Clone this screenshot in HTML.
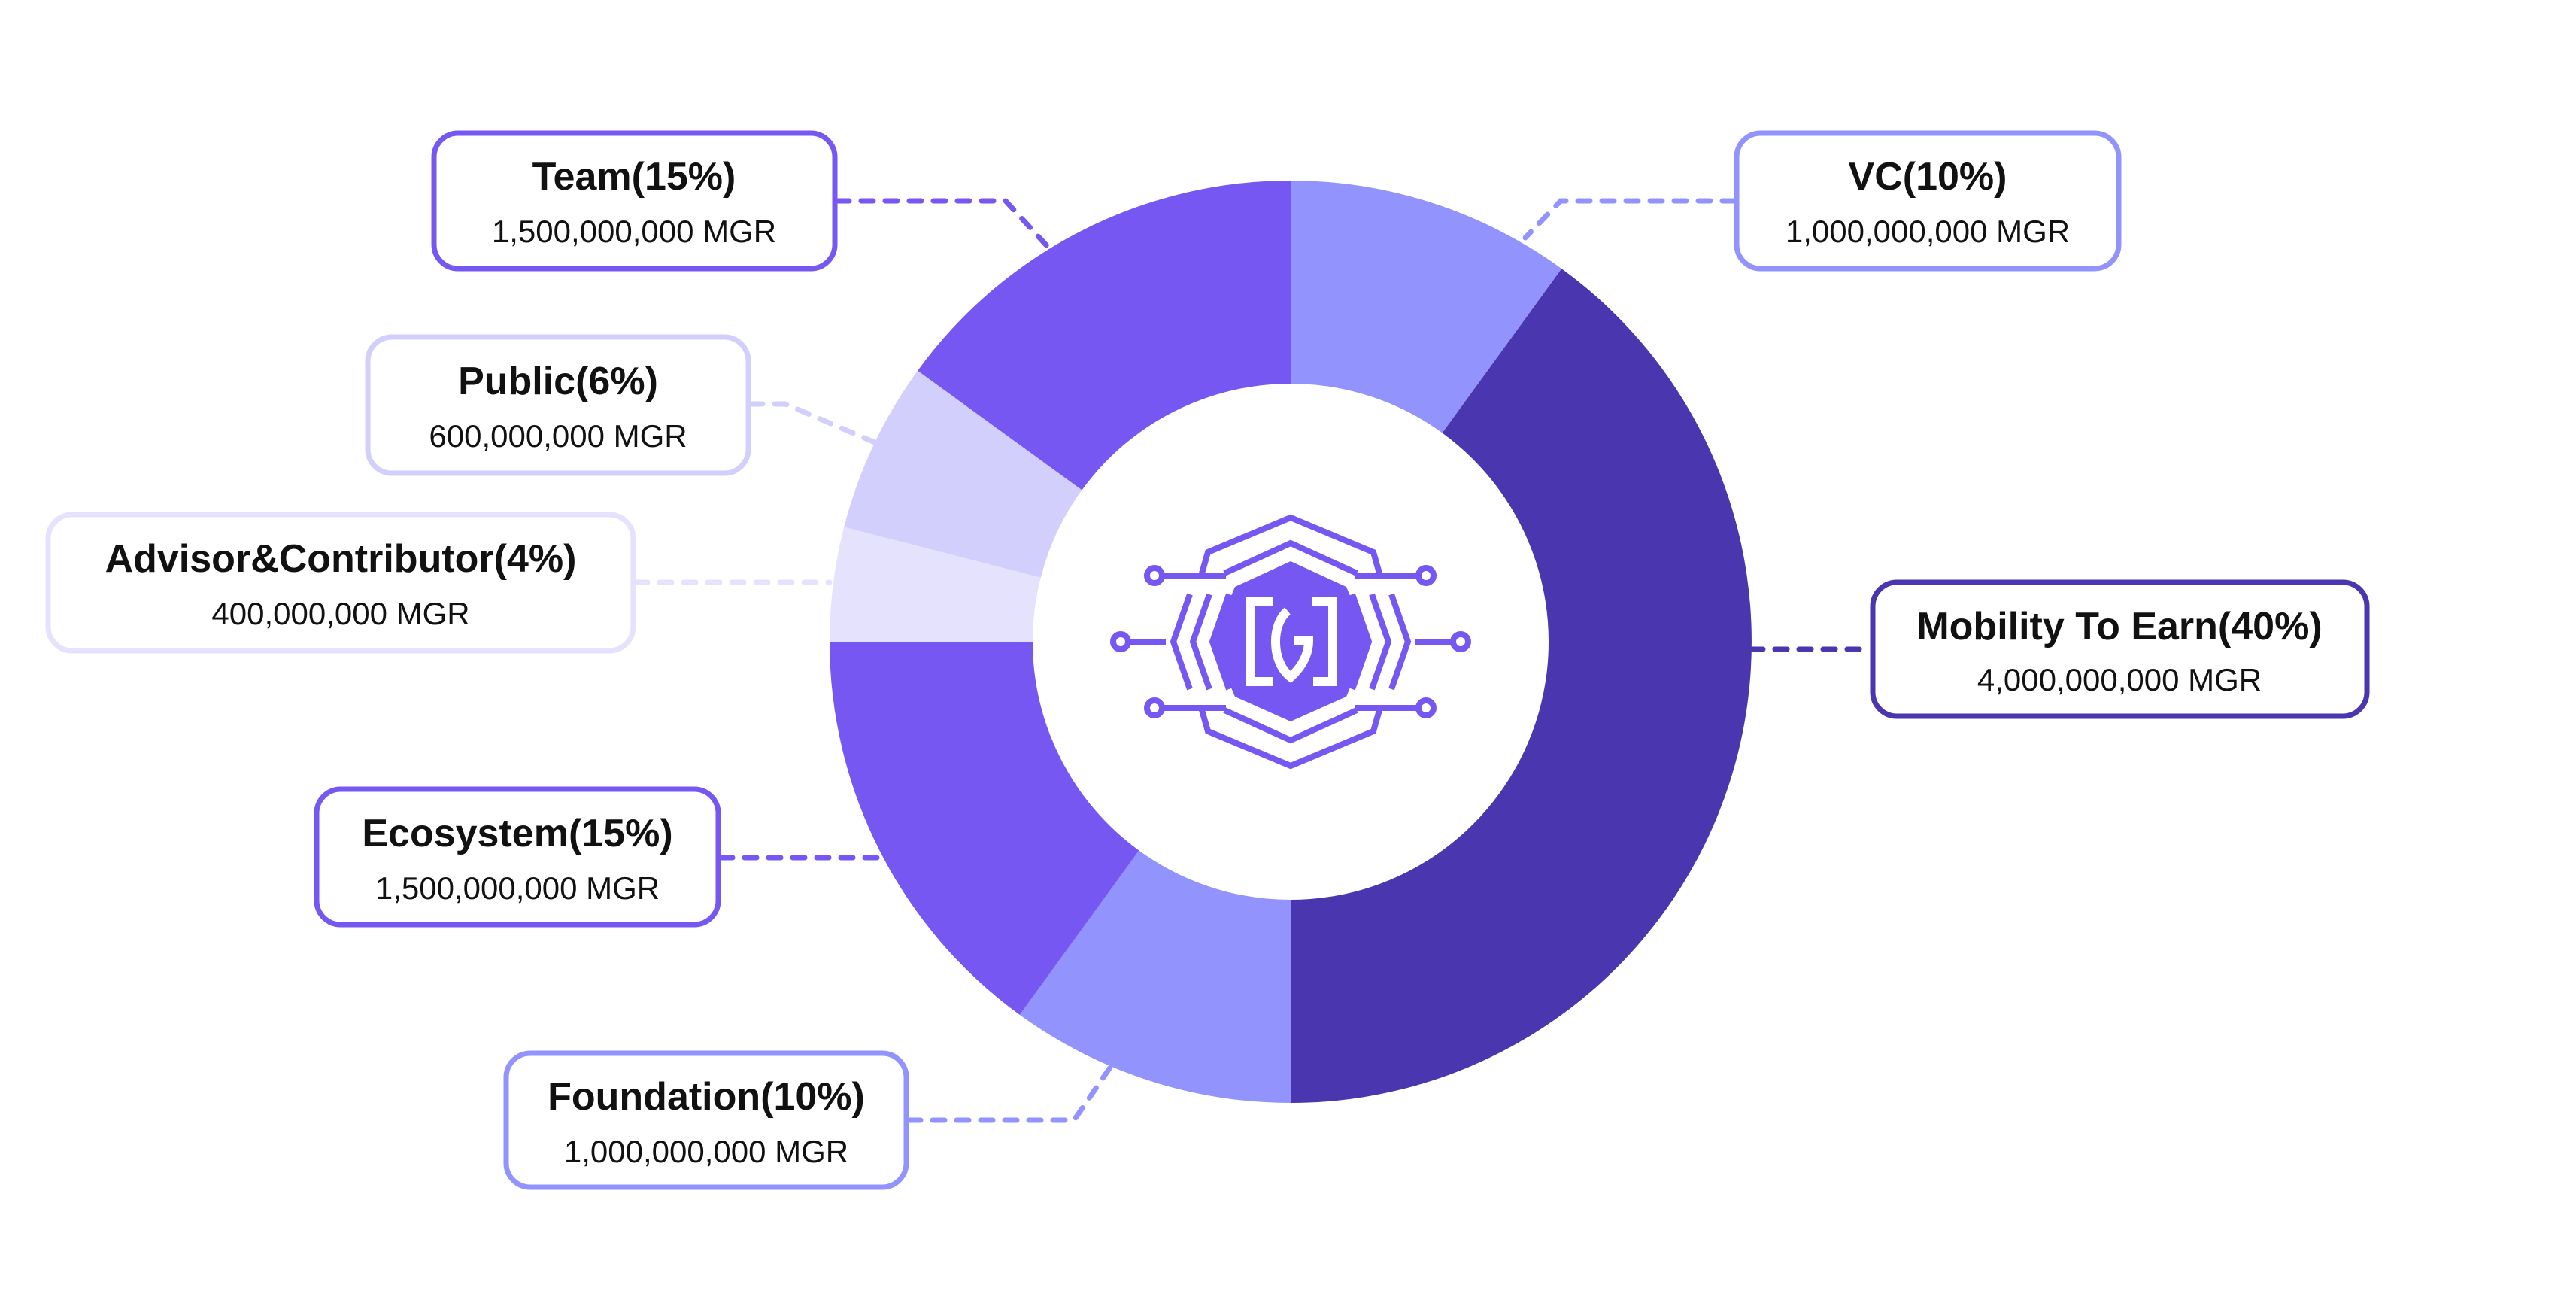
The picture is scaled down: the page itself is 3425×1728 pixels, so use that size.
<!DOCTYPE html>
<html><head><meta charset="utf-8"><style>
html,body{margin:0;padding:0;background:#fff;}
svg{display:block;}
.t{font-family:"Liberation Sans",sans-serif;font-weight:bold;font-size:52px;fill:#111;text-anchor:middle;}
.v{font-family:"Liberation Sans",sans-serif;font-size:42px;fill:#111;text-anchor:middle;}
</style></head><body>
<svg width="3425" height="1728" viewBox="0 0 3425 1728" xmlns="http://www.w3.org/2000/svg">
<rect width="3425" height="1728" fill="#fff"/>
<!-- donut -->
<path d="M1716 240 A613 613 0 0 1 2076.3 357.1 L1917.6 575.5 A343 343 0 0 0 1716 510 Z" fill="#9393FE"/>
<path d="M2076.3 357.1 A613 613 0 0 1 1716 1466 L1716 1196 A343 343 0 0 0 1917.6 575.5 Z" fill="#4A36AE"/>
<path d="M1716 1466 A613 613 0 0 1 1355.7 1348.9 L1514.4 1130.5 A343 343 0 0 0 1716 1196 Z" fill="#9393FE"/>
<path d="M1355.7 1348.9 A613 613 0 0 1 1103 853 L1373 853 A343 343 0 0 0 1514.4 1130.5 Z" fill="#7657F2"/>
<path d="M1103 853 A613 613 0 0 1 1122.2 700.5 L1383.8 767.7 A343 343 0 0 0 1373 853 Z" fill="#E4E2FC"/>
<path d="M1122.2 700.5 A613 613 0 0 1 1220.1 492.7 L1438.5 651.4 A343 343 0 0 0 1383.8 767.7 Z" fill="#D3CFFD"/>
<path d="M1220.1 492.7 A613 613 0 0 1 1716 240 L1716 510 A343 343 0 0 0 1438.5 651.4 Z" fill="#7657F2"/>

<!-- connectors -->
<g fill="none" stroke-width="7" stroke-linecap="round" stroke-dasharray="16 16">
<polyline points="1113,267 1337,267 1395,330" stroke="#7657F2"/>
<polyline points="2306,267 2075,267 2028,316" stroke="#9393FE"/>
<polyline points="998,537 1044,537 1163,588" stroke="#D3CFFD"/>
<polyline points="845,774 1103,774" stroke="#E4E2FC"/>
<polyline points="2328,863 2487,863" stroke="#4A36AE"/>
<polyline points="958,1140 1177,1140" stroke="#7657F2"/>
<polyline points="1208,1489 1428,1489 1478,1416" stroke="#9393FE"/>
</g>

<!-- boxes -->
<g fill="#fff" stroke-width="7">
<rect x="577" y="177" width="533" height="180" rx="32" stroke="#7657F2"/>
<rect x="2309" y="177" width="508" height="180" rx="32" stroke="#9393FE"/>
<rect x="489" y="448" width="506" height="181" rx="32" stroke="#D3CFFD"/>
<rect x="64" y="684" width="778" height="181" rx="32" stroke="#E4E2FC"/>
<rect x="2490" y="774" width="657" height="178" rx="32" stroke="#4A36AE"/>
<rect x="421" y="1049" width="534" height="180" rx="32" stroke="#7657F2"/>
<rect x="673" y="1400" width="532" height="178" rx="32" stroke="#9393FE"/>
</g>
<g>
<text class="t" x="843" y="252">Team(15%)</text><text class="v" x="843" y="322">1,500,000,000 MGR</text>
<text class="t" x="2563" y="252">VC(10%)</text><text class="v" x="2563" y="322">1,000,000,000 MGR</text>
<text class="t" x="742" y="524">Public(6%)</text><text class="v" x="742" y="594">600,000,000 MGR</text>
<text class="t" x="453" y="760">Advisor&amp;Contributor(4%)</text><text class="v" x="453" y="830">400,000,000 MGR</text>
<text class="t" x="2818" y="850">Mobility To Earn(40%)</text><text class="v" x="2818" y="918">4,000,000,000 MGR</text>
<text class="t" x="688" y="1125">Ecosystem(15%)</text><text class="v" x="688" y="1195">1,500,000,000 MGR</text>
<text class="t" x="939" y="1475">Foundation(10%)</text><text class="v" x="939" y="1545">1,000,000,000 MGR</text>
</g>

<!-- logo -->
<g fill="none" stroke="#7657F2" stroke-width="8">
<polyline points="1598,762 1606,734 1716,688 1826,734 1834,762"/>
<polyline points="1628,762 1716,722 1804,762"/>
<polyline points="1598,944 1606,972 1716,1018 1826,972 1834,944"/>
<polyline points="1628,944 1716,984 1804,944"/>
<line x1="1545" y1="765" x2="1630" y2="765"/><line x1="1802" y1="765" x2="1884" y2="765"/>
<line x1="1545" y1="941" x2="1630" y2="941"/><line x1="1802" y1="941" x2="1884" y2="941"/>
<line x1="1500" y1="853" x2="1550" y2="853"/><line x1="1882" y1="853" x2="1930" y2="853"/>
<polyline points="1582,790 1560,853 1582,916"/>
<polyline points="1608,790 1586,853 1608,916"/>
<polyline points="1634,790 1612,853 1634,916"/>
<polyline points="1850,790 1872,853 1850,916"/>
<polyline points="1824,790 1846,853 1824,916"/>
<polyline points="1798,790 1820,853 1798,916"/>
<circle cx="1535" cy="765" r="10"/><circle cx="1896" cy="765" r="10"/>
<circle cx="1535" cy="941" r="10"/><circle cx="1896" cy="941" r="10"/>
<circle cx="1490" cy="853" r="10"/><circle cx="1942" cy="853" r="10"/>
</g>
<polygon points="1716,746 1790,780 1821,853 1790,926 1716,959 1642,926 1611,853 1642,780" fill="#7657F2"/>
<g fill="none" stroke="#fff" stroke-width="12">
<polyline points="1693,800 1662,800 1662,906 1693,906"/>
<polyline points="1744,800 1772,800 1772,906 1746,906"/>
<path d="M1712 812 C1690 830 1690 880 1716 900 C1738 880 1740 860 1740 852 L1720 852"/>
</g>
</svg>
</body></html>
